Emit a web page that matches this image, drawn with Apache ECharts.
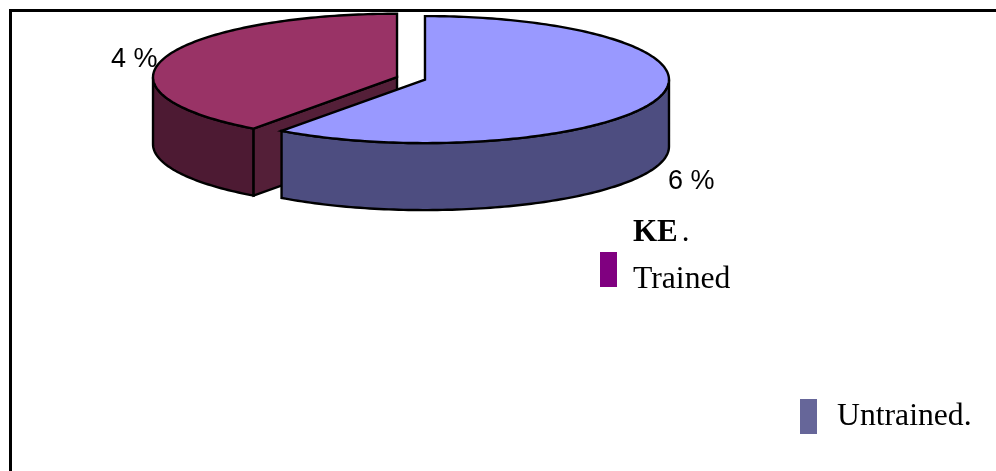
<!DOCTYPE html>
<html>
<head>
<meta charset="utf-8">
<style>html,body{margin:0;padding:0;background:#fff}#chart{width:996px;height:471px}</style>
<script src="https://cdn.jsdelivr.net/npm/echarts@6/dist/echarts.min.js"></script>
</head>
<body>
<div id="chart"></div>
<script>
// Knowledge-of-exercise split between the two groups
const sliceNames = ['Untrained.', 'Trained'];
const sliceValues = [6, 4];
const sliceLabels = ['6 %', '4 %'];

// Colours per slice, same order as sliceNames
const topColours = ['#9999ff', '#993366'];
const rimColours = ['#4d4d80', '#4d1a33'];
const wallColours = ['#4d4d80', '#541f38'];
const legendColours = ['#666699', '#800080'];

// Tilted-disc layout, in pixels
const centre = { x: 411, y: 78.4 };
const radiusX = 244;
const radiusY = 63.5;
const depth = 67;
const explode = 14.7;
const labelSpots = [{ x: 668, y: 195 }, { x: 111, y: 73 }];

const total = sliceValues.reduce((a, b) => a + b, 0);

// Point on the tilted ellipse; angle runs clockwise from the top
function rimPoint(cx, cy, angle, drop) {
  return [cx + Math.sin(angle) * radiusX, cy - Math.cos(angle) * radiusY + drop];
}

function arcPoints(cx, cy, from, to, drop) {
  const steps = Math.max(2, Math.ceil(Math.abs(to - from) / 0.02));
  const pts = [];
  for (let i = 0; i <= steps; i++) {
    pts.push(rimPoint(cx, cy, from + (to - from) * i / steps, drop));
  }
  return pts;
}

function drawSlice(index, api) {
  const before = sliceValues.slice(0, index).reduce((a, b) => a + b, 0);
  const a0 = before / total * Math.PI * 2;
  const a1 = a0 + api.value(0) / total * Math.PI * 2;
  const mid = (a0 + a1) / 2;
  const cx = centre.x + Math.sin(mid) * explode;
  const cy = centre.y - Math.cos(mid) * explode * radiusY / radiusX;
  const line = { stroke: '#000', lineWidth: 2.4, lineJoin: 'miter' };
  const children = [];

  // Outer rim: only the part of the arc on the near half of the disc
  const from = Math.max(a0, Math.PI / 2);
  const to = Math.min(a1, Math.PI * 1.5);
  if (to > from) {
    const upper = arcPoints(cx, cy, from, to, 0);
    const lower = arcPoints(cx, cy, to, from, depth);
    children.push({
      type: 'polygon',
      shape: { points: upper.concat(lower) },
      style: Object.assign({ fill: rimColours[index] }, line)
    });
  }

  // Cut faces that turn towards the viewer
  [[a0, Math.sin(a0) < -1e-6], [a1, Math.sin(a1) > 1e-6]].forEach(([a, visible]) => {
    if (!visible) return;
    children.push({
      type: 'polygon',
      shape: {
        points: [[cx, cy], rimPoint(cx, cy, a, 0), rimPoint(cx, cy, a, depth), [cx, cy + depth]]
      },
      style: Object.assign({ fill: wallColours[index] }, line)
    });
  });

  // Top face
  children.push({
    type: 'polygon',
    shape: { points: [[cx, cy]].concat(arcPoints(cx, cy, a0, a1, 0)) },
    style: Object.assign({ fill: topColours[index] }, line)
  });

  // Value label
  children.push({
    type: 'text',
    style: {
      x: labelSpots[index].x,
      y: labelSpots[index].y,
      text: sliceLabels[index],
      fill: '#000',
      font: '27px "Liberation Sans"',
      textAlign: 'left',
      textVerticalAlign: 'bottom'
    }
  });

  return { type: 'group', children };
}

// Trained sits behind Untrained, so it goes first
const drawOrder = [1, 0];

const chart = echarts.init(document.getElementById('chart'), null, { renderer: 'canvas' });
chart.setOption({
  animation: false,
  backgroundColor: '#fff',
  legend: [
    {
      data: [sliceNames[1]],
      left: 600, top: 252, padding: 0,
      itemWidth: 17, itemHeight: 35, icon: 'rect', selectedMode: false,
      formatter: '{t|{name}}',
      textStyle: {
        rich: {
          t: {
            fontFamily: 'Liberation Serif', fontSize: 31.7, color: '#000',
            padding: [20, 0, 0, 11]
          }
        }
      }
    },
    {
      data: [sliceNames[0]],
      left: 800, top: 399, padding: 0,
      itemWidth: 17, itemHeight: 35, icon: 'rect', selectedMode: false,
      textStyle: {
        fontFamily: 'Liberation Serif', fontSize: 31.7, color: '#000',
        padding: [0, 0, 0, 15]
      }
    }
  ],
  series: drawOrder.map(i => ({
    type: 'custom',
    name: sliceNames[i],
    coordinateSystem: 'none',
    silent: true,
    itemStyle: { color: legendColours[i] },
    data: [[sliceValues[i]]],
    renderItem: (params, api) => drawSlice(i, api)
  })),
  graphic: [
    {
      type: 'polyline', silent: true,
      shape: { points: [[10.5, 471], [10.5, 10.5], [996, 10.5]] },
      style: { stroke: '#000', lineWidth: 3, fill: null }
    },
    {
      type: 'text', silent: true, left: 633, top: 217,
      style: {
        text: '{b|KE}{r|.}',
        rich: {
          b: { font: 'bold 31px "Liberation Serif"', fill: '#000' },
          r: { font: '31px "Liberation Serif"', fill: '#000', padding: [0, 0, 0, 4] }
        }
      }
    }
  ]
});
</script>
</body>
</html>
